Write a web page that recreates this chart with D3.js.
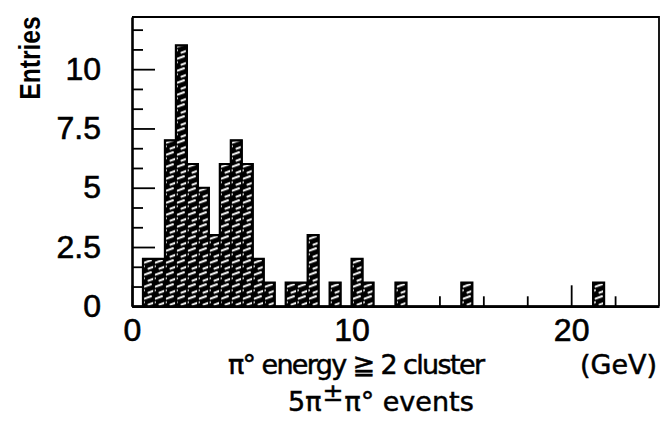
<!DOCTYPE html>
<html>
<head>
<meta charset="utf-8">
<script src="https://cdn.jsdelivr.net/npm/d3@7"></script>
<style>
  html, body { margin: 0; padding: 0; background: #fff; }
  svg { display: block; }
</style>
</head>
<body>
<svg id="chart" width="663" height="434"></svg>
<script>
// Histogram of pi0 energy, 0.5 GeV bins (lower bin edge, entries)
const binLow = [0.5, 1.0, 1.5, 2.0, 2.5, 3.0, 3.5, 4.0, 4.5, 5.0, 5.5, 6.0,
                7.0, 7.5, 8.0, 9.0, 10.0, 10.5, 12.0, 15.0, 21.0];
const counts = [2, 2, 7, 11, 6, 5, 3, 6, 7, 6, 2, 1,
                1, 1, 3, 1, 2, 1, 1, 1, 1];
const binWidth = 0.5;

const xMajorTicks = [0, 10, 20];
const xMinorTicks = [2, 4, 6, 8, 12, 14, 16, 18, 22];
const yMajorTicks = [0, 2.5, 5, 7.5, 10];
const yTickLabels = ["0", "2.5", "5", "7.5", "10"];
const yMinorStep = 2.5 / 3;

const svg = d3.select("#chart");
const plotL = 132, plotR = 659, plotT = 17, plotB = 306.3;

const x = d3.scaleLinear().domain([0, 24]).range([plotL, plotR]);
const y = d3.scaleLinear().domain([0, 12.2]).range([plotB, plotT]);

// hatch: dense black with short, shallow white dashes
const defs = svg.append("defs");
const pat = defs.append("pattern")
  .attr("id", "hatch")
  .attr("patternUnits", "userSpaceOnUse")
  .attr("x", plotL).attr("y", plotB)
  .attr("width", 11).attr("height", 12);
pat.append("rect").attr("width", 11).attr("height", 12).attr("fill", "#000");
[[1.5, 4.4, 8.0, 2.0], [5.5, 10.4, 12.0, 8.0], [-5.5, 10.4, 1.0, 8.0]].forEach(([x1, y1, x2, y2]) => {
  pat.append("line")
    .attr("x1", x1).attr("y1", y1).attr("x2", x2).attr("y2", y2)
    .attr("stroke", "#fff").attr("stroke-width", 2).attr("stroke-linecap", "round");
});

const bins = binLow.map((lo, i) => ({ lo, hi: lo + binWidth, n: counts[i] }));

// bar fills
svg.append("g").selectAll("rect")
  .data(bins)
  .join("rect")
  .attr("x", d => x(d.lo))
  .attr("y", d => y(d.n))
  .attr("width", d => x(d.hi) - x(d.lo))
  .attr("height", d => y(0) - y(d.n))
  .attr("fill", "url(#hatch)");

// histogram outline as a step line over every 0.5 GeV bin
const nBins = Math.round(24 / binWidth);
const full = d3.range(nBins + 1).map(i => {
  const lo = i * binWidth;
  const b = bins.find(d => Math.abs(d.lo - lo) < 1e-9);
  return { lo, n: b ? b.n : 0 };
});
svg.append("path")
  .datum(full)
  .attr("fill", "none")
  .attr("stroke", "#000")
  .attr("stroke-width", 2.2)
  .attr("d", d3.line().x(d => x(d.lo)).y(d => y(d.n)).curve(d3.curveStepAfter));
// thin edges round each bar
svg.append("g").selectAll("rect")
  .data(bins)
  .join("rect")
  .attr("x", d => x(d.lo))
  .attr("y", d => y(d.n))
  .attr("width", d => x(d.hi) - x(d.lo))
  .attr("height", d => y(0) - y(d.n))
  .attr("fill", "none")
  .attr("stroke", "#000")
  .attr("stroke-width", 1.2);

// frame
svg.append("path")
  .attr("d", `M${plotL},${plotT}H${plotR}V${plotB}`)
  .attr("fill", "none").attr("stroke", "#000").attr("stroke-width", 1.8);

const tickFont = "'Liberation Sans', Arial, sans-serif";
const styleTick = sel => sel
  .attr("font-family", tickFont).attr("font-size", 32)
  .attr("fill", "#000").attr("stroke", "#000").attr("stroke-width", 0.6);

// y axis (ticks point inward)
const yMinor = d3.range(0, 12.2, yMinorStep).filter(v => !yMajorTicks.some(t => Math.abs(t - v) < 1e-6));
svg.append("g")
  .attr("transform", `translate(${plotL},0)`)
  .call(d3.axisLeft(y).tickValues(yMinor).tickSize(-11).tickSizeOuter(0).tickFormat(""))
  .call(g => g.select(".domain").remove())
  .call(g => g.selectAll("line").attr("stroke-width", 1.8));
const gy = svg.append("g")
  .attr("transform", `translate(${plotL},0)`)
  .call(d3.axisLeft(y).tickValues(yMajorTicks).tickSize(-23).tickSizeOuter(0)
        .tickPadding(31).tickFormat((d, i) => yTickLabels[i]));
gy.select(".domain").attr("stroke-width", 2.6);
gy.selectAll("line").attr("stroke-width", 1.8);
gy.selectAll("text").call(styleTick);

// x axis
svg.append("g")
  .attr("transform", `translate(0,${plotB})`)
  .call(d3.axisBottom(x).tickValues(xMinorTicks).tickSize(-10).tickSizeOuter(0).tickFormat(""))
  .call(g => g.select(".domain").remove())
  .call(g => g.selectAll("line").attr("stroke-width", 1.8));
const gx = svg.append("g")
  .attr("transform", `translate(0,${plotB})`)
  .call(d3.axisBottom(x).tickValues(xMajorTicks).tickSize(-21).tickSizeOuter(0)
        .tickPadding(12).tickFormat(d3.format("d")));
gx.select(".domain").attr("stroke-width", 2.6);
gx.selectAll("line").attr("stroke-width", 1.8);
gx.selectAll("text").call(styleTick);

// y title, condensed bold
svg.append("text")
  .attr("transform", "translate(40,58) rotate(-90) scale(0.82,1)")
  .attr("text-anchor", "middle")
  .attr("font-family", "'Liberation Sans', sans-serif")
  .attr("font-weight", "bold")
  .attr("font-size", 30)
  .text("Entries");

// x title, two lines
const labelFont = "'DejaVu Sans', sans-serif";
const styleLabel = sel => sel
  .attr("font-family", labelFont).attr("font-size", 27)
  .attr("fill", "#000").attr("stroke", "#000").attr("stroke-width", 0.5);
svg.append("text")
  .attr("x", 228).attr("y", 374)
  .call(styleLabel)
  .attr("textLength", 257)
  .attr("lengthAdjust", "spacing")
  .text("π° energy ≧ 2 cluster");
svg.append("text")
  .attr("x", 657).attr("y", 374)
  .attr("text-anchor", "end")
  .call(styleLabel)
  .text("(GeV)");
const t2 = svg.append("text")
  .attr("x", 288).attr("y", 411)
  .call(styleLabel);
t2.append("tspan").text("5π");
t2.append("tspan").attr("dx", 1).attr("dy", -10).attr("font-size", 25).text("±");
t2.append("tspan").attr("dx", 1).attr("dy", 10).text("π° events");
</script>
</body>
</html>
